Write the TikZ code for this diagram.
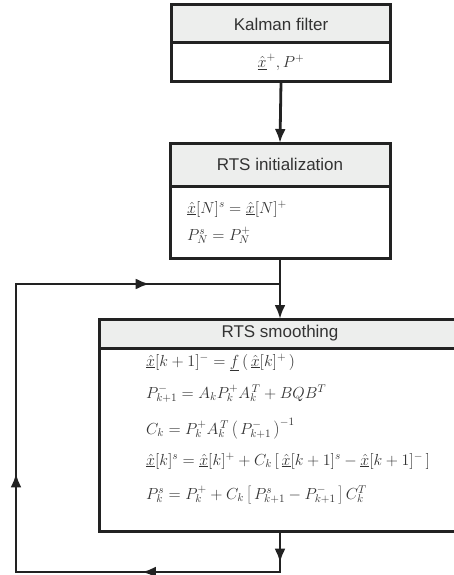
\RequirePackage{fix-cm}
\documentclass[tikz,border=0pt]{standalone}
\usepackage{fontspec}
\setsansfont{Liberation Sans}
\usetikzlibrary{arrows.meta,decorations.markings,calc}
\definecolor{hdr}{HTML}{EDEEED}
\definecolor{ink}{HTML}{222222}
\definecolor{txt}{HTML}{333333}
\tikzset{
  hdrbox/.style={draw=ink, line width=3pt, fill=hdr, outer sep=0pt, inner sep=0pt,
    font=\sffamily\fontsize{17}{20}\selectfont, text=txt},
  bodybox/.style={draw=ink, line width=3pt, fill=white, outer sep=0pt, inner sep=0pt,
    font=\fontsize{16}{19}\selectfont, text=txt},
  eq/.style={anchor=base west, inner sep=0pt, font=\fontsize{16}{19}\selectfont, text=txt},
  conn/.style={draw=ink, line width=2.8pt},
  tip/.tip={Latex[length=14pt,width=11pt]},
  loopmarks/.style={postaction={decorate}, decoration={markings,
    mark=at position 0.037 with {\arrow{tip}},
    mark=at position 0.209 with {\arrow{tip}},
    mark=at position 0.471 with {\arrow{tip}},
    mark=at position 0.848 with {\arrow{tip}}}}
}
\begin{document}
\begin{tikzpicture}[x=1pt,y=-1pt]
\useasboundingbox (0,0) rectangle (454,575);
% Kalman filter
\node[hdrbox, minimum width=219pt, minimum height=38pt] (kfh) at (281,24) {Kalman filter};
\node[bodybox, minimum width=219pt, minimum height=39pt] (kfb) at (281,62.5) {$\underline{\hat{x}}^{+}, P^{+}$};
% RTS initialization
\node[hdrbox, minimum width=220pt, minimum height=43pt] (rih) at (280,164.5) {RTS initialization};
\node[bodybox, minimum width=220pt, minimum height=72pt] (rib) at (280,222) {};
\node[eq] (ri1) at (187,213) {$\underline{\hat{x}}[N]^{s} = \underline{\hat{x}}[N]^{+}$};
\node[eq] (ri2) at (187,240) {$P_{N}^{s} = P_{N}^{+}$};
% RTS smoothing
\node[hdrbox, minimum width=362pt, minimum height=29pt] (smh) at (280,333.5) {RTS smoothing};
\node[bodybox, minimum width=362pt, minimum height=183pt] (smb) at (280,439.5) {};
\node[eq] (s1) at (146,366) {$\underline{\hat{x}}[k+1]^{-} = \underline{f}\left(\,\underline{\hat{x}}[k]^{+}\,\right)$};
\node[eq] (s2) at (146,398) {$P_{k+1}^{-} = A_{k}P_{k}^{+}A_{k}^{\,T} + BQB^{T}$};
\node[eq] (s3) at (146,434) {$C_{k} = P_{k}^{+}A_{k}^{\,T}\left(\,P_{k+1}^{-}\,\right)^{-1}$};
\node[eq] (s4) at (146,465) {$\underline{\hat{x}}[k]^{s} = \underline{\hat{x}}[k]^{+} + C_{k}\left[\,\underline{\hat{x}}[k+1]^{s} - \underline{\hat{x}}[k+1]^{-}\,\right]$};
\node[eq] (s5) at (146,499) {$P_{k}^{s} = P_{k}^{+} + C_{k}\left[\,P_{k+1}^{s} - P_{k+1}^{-}\,\right]C_{k}^{T}$};
% connectors
\coordinate (j1) at (280,284);
\coordinate (l1) at (16,284);
\coordinate (l2) at (16,572);
\coordinate (b1) at (280,572);
\draw[conn, -tip] (kfb.south) -- (rih.north);
\draw[conn, -tip] (rib.south) -- (smh.north);
\draw[conn, loopmarks] (smb.south) -- (b1) -- (l2) -- (l1) -- (j1);
\end{tikzpicture}
\end{document}
